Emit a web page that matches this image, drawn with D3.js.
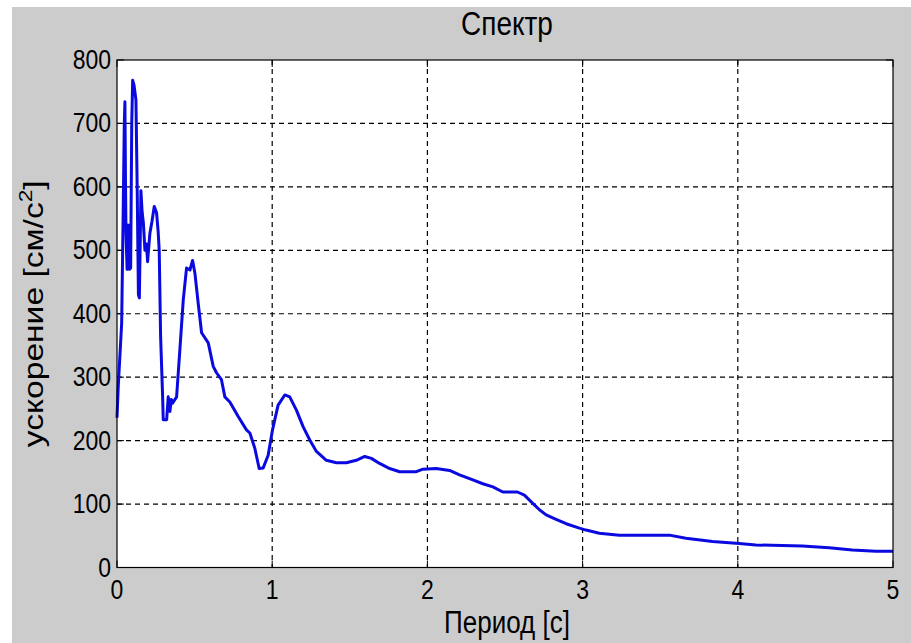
<!DOCTYPE html>
<html><head><meta charset="utf-8">
<script src="https://cdn.jsdelivr.net/npm/d3@7"></script>
<style>
html,body{margin:0;padding:0;background:#fff;}
text{font-family:"Liberation Sans",Arial,sans-serif;fill:#000;}
</style></head>
<body>
<script>
const periods = [0,0.008,0.03,0.04,0.047,0.051,0.055,0.058,0.065,0.072,0.08,0.088,0.095,0.101,0.11,0.122,0.13,0.138,0.144,0.15,0.154,0.162,0.17,0.18,0.19,0.197,0.212,0.225,0.24,0.255,0.265,0.272,0.281,0.294,0.298,0.32,0.33,0.341,0.35,0.358,0.384,0.405,0.427,0.448,0.47,0.487,0.502,0.523,0.545,0.588,0.62,0.641,0.673,0.695,0.727,0.781,0.834,0.856,0.888,0.916,0.942,0.974,1.002,1.038,1.081,1.113,1.156,1.199,1.242,1.285,1.349,1.414,1.478,1.542,1.596,1.639,1.692,1.757,1.821,1.929,1.971,2.057,2.143,2.207,2.293,2.357,2.422,2.486,2.58,2.625,2.679,2.722,2.765,2.829,2.894,2.979,3.022,3.108,3.237,3.559,3.666,3.837,4.009,4.116,4.416,4.588,4.738,4.889,5.0];
const accel = [236,285,385,563,700,734,600,527,470,540,470,472,700,768,760,737,600,430,425,520,594,560,543,500,510,482,527,545,569,559,530,500,364,269,233,233,269,246,265,259,269,343,422,472,469,484,464,417,370,354,317,307,296,269,261,238,217,212,188,156,157,177,217,256,272,269,248,222,201,183,169,165,165,169,175,172,164,156,151,151,155,156,153,146,138,132,127,119,119,114,101,91,83,76,69,62,59,54,51,51,46,41,38,35.5,34,31,27.6,25.5,25.5];
const xTicks = [0,1,2,3,4,5];
const yTicks = [0,100,200,300,400,500,600,700,800];
const titleText = "Спектр";
const xLabel = "Период [с]";
const yLabelMain = "ускорение [см/с";
const yLabelSup = "2";
const yLabelEnd = "]";

const W = 911, H = 643;
const L = 117, R = 893, T = 60, B = 567.5;
const svg = d3.select("body").append("svg").attr("width", W).attr("height", H);
svg.append("rect").attr("x",12).attr("y",7).attr("width",W-12).attr("height",H-7).attr("fill","#cccccc");

const x = d3.scaleLinear().domain([0,5]).range([L,R]);
const y = d3.scaleLinear().domain([0,800]).range([B,T]);

svg.append("rect").attr("x",L).attr("y",T).attr("width",R-L).attr("height",B-T).attr("fill","#fff");

// grid
const g = svg.append("g");
g.selectAll("line.gx").data(xTicks.slice(1,-1)).join("line")
  .attr("x1",d=>x(d)).attr("x2",d=>x(d)).attr("y1",T).attr("y2",B)
  .attr("stroke","#000").attr("stroke-width",1.2).attr("stroke-dasharray","5,4");
g.selectAll("line.gy").data(yTicks.slice(1,-1)).join("line")
  .attr("y1",d=>y(d)).attr("y2",d=>y(d)).attr("x1",L).attr("x2",R)
  .attr("stroke","#000").attr("stroke-width",1.2).attr("stroke-dasharray","5,4");

// inner ticks on all four sides
const tk = 7;
g.selectAll("line.tb").data(xTicks).join("line").attr("x1",d=>x(d)).attr("x2",d=>x(d)).attr("y1",B).attr("y2",B-tk).attr("stroke","#000");
g.selectAll("line.tt").data(xTicks).join("line").attr("x1",d=>x(d)).attr("x2",d=>x(d)).attr("y1",T).attr("y2",T+tk).attr("stroke","#000");
g.selectAll("line.tl").data(yTicks).join("line").attr("y1",d=>y(d)).attr("y2",d=>y(d)).attr("x1",L).attr("x2",L+tk).attr("stroke","#000");
g.selectAll("line.tr").data(yTicks).join("line").attr("y1",d=>y(d)).attr("y2",d=>y(d)).attr("x1",R).attr("x2",R-tk).attr("stroke","#000");

// line
const data = periods.map((p,i)=>[p,accel[i]]);
svg.append("path").datum(data)
  .attr("d", d3.line().x(d=>x(d[0])).y(d=>y(d[1])))
  .attr("fill","none").attr("stroke","#0a0ae0").attr("stroke-width",3).attr("stroke-linejoin","round");

// box
svg.append("rect").attr("x",L).attr("y",T).attr("width",R-L).attr("height",B-T)
  .attr("fill","none").attr("stroke","#000").attr("stroke-width",1.2);

// tick labels
const sy = 1.2;
svg.selectAll("text.xt").data(xTicks).join("text")
  .attr("transform",d=>`translate(${x(d)},${B+31}) scale(1,${sy})`)
  .attr("text-anchor","middle").attr("font-size",23).text(d=>d);
svg.selectAll("text.yt").data(yTicks).join("text")
  .attr("transform",d=>`translate(${L-6},${y(d)+9}) scale(1,${sy})`)
  .attr("text-anchor","end").attr("font-size",23).text(d=>d);

// title, labels
svg.append("text").attr("transform",`translate(${(L+R)/2+2},${T-25}) scale(1,${sy})`)
  .attr("text-anchor","middle").attr("font-size",28).text(titleText);
svg.append("text").attr("transform",`translate(${(L+R)/2+2},${H-10}) scale(1,${sy})`)
  .attr("text-anchor","middle").attr("font-size",26).text(xLabel);
const yl = svg.append("text").attr("transform",`translate(43,${(T+B)/2}) scale(1,${sy}) rotate(-90)`)
  .attr("text-anchor","middle").attr("font-size",28);
yl.append("tspan").text(yLabelMain);
yl.append("tspan").attr("dy",-11).attr("font-size",19).text(yLabelSup);
yl.append("tspan").attr("dy",11).text(yLabelEnd);
</script>
</body></html>
